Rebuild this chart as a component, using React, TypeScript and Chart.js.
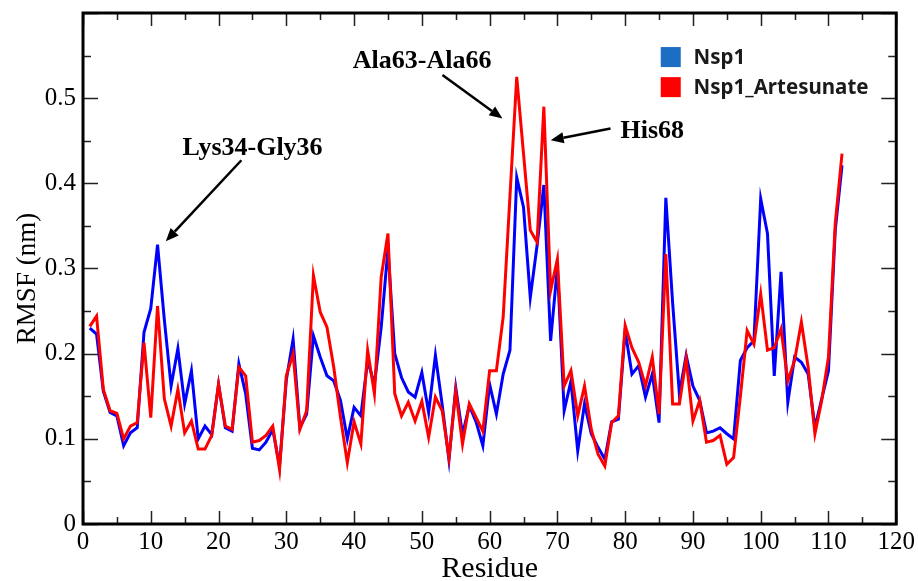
import React, { useEffect, useRef } from "react";
import { Chart, registerables } from "chart.js";

Chart.register(...registerables);

const residues = [
  1, 2, 3, 4, 5, 6, 7, 8, 9, 10, 11, 12, 13, 14, 15, 16, 17, 18, 19, 20,
  21, 22, 23, 24, 25, 26, 27, 28, 29, 30, 31, 32, 33, 34, 35, 36, 37, 38, 39, 40,
  41, 42, 43, 44, 45, 46, 47, 48, 49, 50, 51, 52, 53, 54, 55, 56, 57, 58, 59, 60,
  61, 62, 63, 64, 65, 66, 67, 68, 69, 70, 71, 72, 73, 74, 75, 76, 77, 78, 79, 80,
  81, 82, 83, 84, 85, 86, 87, 88, 89, 90, 91, 92, 93, 94, 95, 96, 97, 98, 99, 100,
  101, 102, 103, 104, 105, 106, 107, 108, 109, 110, 111, 112,
];

const nsp1 = [
  0.230, 0.223, 0.156, 0.131, 0.127, 0.092, 0.107, 0.113, 0.225, 0.253,
  0.328, 0.240, 0.162, 0.206, 0.141, 0.180, 0.100, 0.115, 0.105, 0.164,
  0.113, 0.109, 0.188, 0.153, 0.089, 0.087, 0.096, 0.111, 0.068, 0.169,
  0.217, 0.113, 0.129, 0.221, 0.196, 0.174, 0.168, 0.145, 0.100, 0.137,
  0.127, 0.192, 0.164, 0.231, 0.323, 0.200, 0.172, 0.155, 0.149, 0.178,
  0.131, 0.198, 0.140, 0.075, 0.160, 0.105, 0.139, 0.120, 0.092, 0.164,
  0.129, 0.176, 0.204, 0.407, 0.372, 0.266, 0.327, 0.398, 0.215, 0.302,
  0.133, 0.168, 0.086, 0.141, 0.106, 0.090, 0.076, 0.120, 0.123, 0.227,
  0.176, 0.186, 0.149, 0.176, 0.119, 0.383, 0.260, 0.153, 0.198, 0.162,
  0.145, 0.107, 0.109, 0.113, 0.106, 0.100, 0.192, 0.207, 0.215, 0.382,
  0.341, 0.174, 0.296, 0.143, 0.196, 0.190, 0.176, 0.113, 0.147, 0.180,
  0.345, 0.421,
];

const nsp1Artesunate = [
  0.232, 0.244, 0.158, 0.133, 0.130, 0.100, 0.115, 0.119, 0.213, 0.125,
  0.256, 0.147, 0.115, 0.158, 0.107, 0.121, 0.088, 0.088, 0.104, 0.164,
  0.115, 0.111, 0.184, 0.174, 0.096, 0.098, 0.104, 0.115, 0.064, 0.174,
  0.200, 0.111, 0.133, 0.292, 0.249, 0.231, 0.184, 0.125, 0.072, 0.120,
  0.094, 0.204, 0.153, 0.290, 0.341, 0.153, 0.127, 0.143, 0.121, 0.144,
  0.102, 0.149, 0.133, 0.078, 0.156, 0.094, 0.141, 0.125, 0.109, 0.180,
  0.180, 0.243, 0.385, 0.525, 0.435, 0.345, 0.331, 0.490, 0.274, 0.311,
  0.162, 0.180, 0.127, 0.162, 0.111, 0.082, 0.068, 0.119, 0.127, 0.233,
  0.207, 0.190, 0.162, 0.196, 0.129, 0.317, 0.141, 0.141, 0.194, 0.121,
  0.145, 0.096, 0.098, 0.104, 0.070, 0.078, 0.150, 0.227, 0.211, 0.270,
  0.204, 0.207, 0.229, 0.168, 0.192, 0.237, 0.184, 0.106, 0.145, 0.196,
  0.353, 0.435,
];

const seriesNames = ["Nsp1", "Nsp1_Artesunate"];
const lineColors = ["#0000ff", "#ff0000"];
const legendColors = ["#1b6ec2", "#ff0000"];

const xMin = 0;
const xMax = 120;
const xMajorStep = 10;
const xMinorStep = 5;
const yMin = 0;
const yMax = 0.6;
const yMajorStep = 0.1;
const yMinorStep = 0.05;
const yTickLabels = ["0", "0.1", "0.2", "0.3", "0.4", "0.5"];

const xTitle = "Residue";
const yTitle = "RMSF (nm)";

// annotation labels (data coordinates: left x, baseline y)
const annotationTexts = ["Ala63-Ala66", "Lys34-Gly36", "His68"];
const annotationAnchors = [
  [39.8, 0.536],
  [14.68, 0.4338],
  [79.32, 0.4535],
];
const arrowTails = [
  [53.04, 0.5271],
  [23.37, 0.4271],
  [77.84, 0.4643],
];
const arrowHeads = [
  [61.89, 0.4761],
  [12.22, 0.3321],
  [69.01, 0.4506],
];

// legend anchor in data coordinates
const legendSwatchX = 85.25;
const legendRowY = [0.56, 0.5247];
const legendTextX = 90.1;

const SERIF = "'Liberation Serif', 'Times New Roman', serif";
const SANS = "'Noto Sans', 'Open Sans', sans-serif";

const decorPlugin = {
  id: "decor",
  afterDraw(chart: any) {
    const { ctx, chartArea: a, scales } = chart;
    const xs = scales.x;
    const ys = scales.y;
    ctx.save();

    // inward ticks on all four sides
    ctx.strokeStyle = "#222";
    ctx.lineWidth = 1.5;
    const nx = Math.round((xMax - xMin) / xMinorStep);
    for (let i = 0; i <= nx; i++) {
      const v = xMin + i * xMinorStep;
      const px = Math.round(xs.getPixelForValue(v)) + 0.5;
      const major = i % Math.round(xMajorStep / xMinorStep) === 0;
      const len = major ? 13 : 7;
      ctx.beginPath();
      ctx.moveTo(px, a.bottom);
      ctx.lineTo(px, a.bottom - len);
      ctx.moveTo(px, a.top);
      ctx.lineTo(px, a.top + len);
      ctx.stroke();
    }
    const ny = Math.round((yMax - yMin) / yMinorStep);
    for (let i = 0; i <= ny; i++) {
      const v = yMin + i * yMinorStep;
      const py = Math.round(ys.getPixelForValue(v)) + 0.5;
      const major = i % Math.round(yMajorStep / yMinorStep) === 0;
      const len = major ? 15 : 8;
      ctx.beginPath();
      ctx.moveTo(a.left, py);
      ctx.lineTo(a.left + len, py);
      ctx.moveTo(a.right, py);
      ctx.lineTo(a.right - len, py);
      ctx.stroke();
    }

    // frame
    ctx.strokeStyle = "#000";
    ctx.lineWidth = 3;
    ctx.strokeRect(a.left, a.top, a.right - a.left, a.bottom - a.top);

    // axis titles
    ctx.fillStyle = "#000";
    ctx.font = `30px ${SERIF}`;
    ctx.textAlign = "center";
    ctx.textBaseline = "alphabetic";
    ctx.fillText(xTitle, (a.left + a.right) / 2, 577);

    ctx.save();
    ctx.translate(35, (a.top + a.bottom) / 2 + 10);
    ctx.rotate(-Math.PI / 2);
    ctx.font = `27px ${SERIF}`;
    ctx.textAlign = "center";
    ctx.fillText(yTitle, 0, 0);
    ctx.restore();

    // annotations
    ctx.font = `bold 26px ${SERIF}`;
    ctx.textAlign = "left";
    ctx.textBaseline = "alphabetic";
    ctx.fillStyle = "#000";
    annotationTexts.forEach((t, i) => {
      ctx.fillText(
        t,
        xs.getPixelForValue(annotationAnchors[i][0]),
        ys.getPixelForValue(annotationAnchors[i][1])
      );
    });
    ctx.strokeStyle = "#000";
    ctx.lineWidth = 2.5;
    arrowTails.forEach((tail, i) => {
      const x1 = xs.getPixelForValue(tail[0]);
      const y1 = ys.getPixelForValue(tail[1]);
      const x2 = xs.getPixelForValue(arrowHeads[i][0]);
      const y2 = ys.getPixelForValue(arrowHeads[i][1]);
      const ang = Math.atan2(y2 - y1, x2 - x1);
      const headLen = 13;
      const headW = 5.5;
      const bx = x2 - headLen * Math.cos(ang);
      const by = y2 - headLen * Math.sin(ang);
      ctx.beginPath();
      ctx.moveTo(x1, y1);
      ctx.lineTo(bx, by);
      ctx.stroke();
      ctx.beginPath();
      ctx.moveTo(x2, y2);
      ctx.lineTo(bx + headW * Math.sin(ang), by - headW * Math.cos(ang));
      ctx.lineTo(bx - headW * Math.sin(ang), by + headW * Math.cos(ang));
      ctx.closePath();
      ctx.fill();
    });

    // legend
    ctx.font = `bold 20.5px ${SANS}`;
    ctx.textAlign = "left";
    ctx.textBaseline = "middle";
    seriesNames.forEach((name, i) => {
      const sx = xs.getPixelForValue(legendSwatchX);
      const sy = ys.getPixelForValue(legendRowY[i]);
      ctx.fillStyle = legendColors[i];
      ctx.fillRect(sx, sy, 20, 20);
      ctx.fillStyle = "#1a1a1a";
      ctx.fillText(name, xs.getPixelForValue(legendTextX), sy + 11);
    });

    ctx.restore();
  },
};

export default function App() {
  const canvasRef = useRef<HTMLCanvasElement | null>(null);

  useEffect(() => {
    document.body.style.margin = "0";
    const canvas = canvasRef.current;
    if (!canvas) return;
    const chart = new Chart(canvas, {
      type: "line",
      data: {
        datasets: [
          {
            label: seriesNames[0],
            data: residues.map((r, i) => ({ x: r, y: nsp1[i] })),
            borderColor: lineColors[0],
            backgroundColor: lineColors[0],
            borderWidth: 3,
            pointRadius: 0,
            tension: 0,
            fill: false,
            order: 2,
          },
          {
            label: seriesNames[1],
            data: residues.map((r, i) => ({ x: r, y: nsp1Artesunate[i] })),
            borderColor: lineColors[1],
            backgroundColor: lineColors[1],
            borderWidth: 3,
            pointRadius: 0,
            tension: 0,
            fill: false,
            order: 1,
          },
        ],
      },
      options: {
        responsive: false,
        animation: false,
        devicePixelRatio: 1,
        layout: { padding: { top: 13, right: 20, left: 0, bottom: 0 } },
        plugins: {
          legend: { display: false },
          tooltip: { enabled: false },
          title: { display: false },
        },
        scales: {
          x: {
            type: "linear",
            min: xMin,
            max: xMax,
            grid: { display: false, drawTicks: false },
            border: { display: false },
            ticks: {
              stepSize: xMajorStep,
              autoSkip: false,
              maxRotation: 0,
              padding: 3,
              color: "#000",
              font: { family: SERIF, size: 25, lineHeight: 1.2 },
            },
            afterFit(scale: any) {
              scale.height = 57;
            },
          },
          y: {
            type: "linear",
            min: yMin,
            max: yMax,
            grid: { display: false, drawTicks: false },
            border: { display: false },
            afterBuildTicks(scale: any) {
              scale.ticks = yTickLabels.map((_, i) => ({ value: yMin + i * yMajorStep }));
            },
            ticks: {
              padding: 7,
              color: "#000",
              font: { family: SERIF, size: 25, lineHeight: 0.2 },
              callback: (_v: any, i: number) => yTickLabels[i],
            },
            afterFit(scale: any) {
              scale.width = 83;
            },
          },
        },
      },
      plugins: [decorPlugin],
    });
    return () => chart.destroy();
  }, []);

  return (
    <div style={{ position: "absolute", left: 0, top: 0, width: 918, height: 581, background: "#fff" }}>
      <canvas ref={canvasRef} width={918} height={581} />
    </div>
  );
}
